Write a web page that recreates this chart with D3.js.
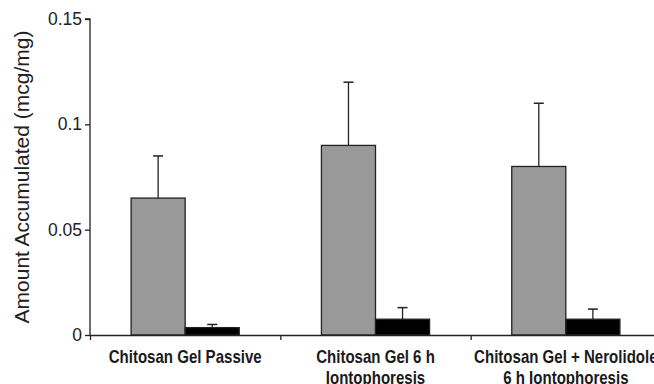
<!DOCTYPE html>
<html>
<head>
<meta charset="utf-8">
<script src="https://cdn.jsdelivr.net/npm/d3@7"></script>
<style>
  body { margin: 0; background: #fff; }
  svg { display: block; }
</style>
</head>
<body>
<svg></svg>
<script>
const width = 654
const height = 384
const marginTop = 19
const marginLeft = 90
const axisBottomY = 335
const axisRight = 661

// data
const categories = ["Chitosan Gel Passive", "Chitosan Gel 6 h|Iontophoresis", "Chitosan Gel + Nerolidole|6 h Iontophoresis"]
const series = ["grey", "black"]
const greyValues = [0.065, 0.09, 0.08]
const greyErrors = [0.020, 0.030, 0.030]
const blackValues = [0.0035, 0.0075, 0.0075]
const blackErrors = [0.0015, 0.0055, 0.0048]
const yTicks = [0, 0.05, 0.1, 0.15]
const yTickLabels = ["0", "0.05", "0.1", "0.15"]
const seriesColors = ["#999999", "#000000"]

const rows = categories.map((c, i) => ({
    category: c,
    bars: [
        { key: "grey", value: greyValues[i], err: greyErrors[i] },
        { key: "black", value: blackValues[i], err: blackErrors[i] }
    ]
}))

const svg = d3.select("svg")
    .attr("width", width)
    .attr("height", height)

const y = d3.scaleLinear()
    .domain([0, 0.15])
    .range([axisBottomY, marginTop])

const x0 = d3.scaleBand()
    .domain(categories)
    .range([marginLeft, axisRight])
    .padding(0)

const x1 = d3.scaleBand()
    .domain(series)
    .range([0, x0.bandwidth()])
    .paddingInner(0)
    .paddingOuter(0.76)

const color = d3.scaleOrdinal().domain(series).range(seriesColors)

const groups = svg.selectAll(".group")
    .data(rows)
    .enter()
    .append("g")
    .attr("class", "group")
    .attr("transform", d => `translate(${x0(d.category)},0)`)

// error bars (upper only)
groups.selectAll(".err")
    .data(d => d.bars)
    .enter()
    .append("g")
    .attr("class", "err")
    .each(function(d) {
        const g = d3.select(this)
        const cx = x1(d.key) + x1.bandwidth() / 2
        g.append("line")
            .attr("x1", cx).attr("x2", cx)
            .attr("y1", y(d.value)).attr("y2", y(d.value + d.err))
            .attr("stroke", "#222").attr("stroke-width", 1.3)
        g.append("line")
            .attr("x1", cx - 5).attr("x2", cx + 5)
            .attr("y1", y(d.value + d.err)).attr("y2", y(d.value + d.err))
            .attr("stroke", "#222").attr("stroke-width", 1.5)
    })

groups.selectAll("rect")
    .data(d => d.bars)
    .enter()
    .append("rect")
    .attr("x", d => x1(d.key))
    .attr("y", d => y(d.value))
    .attr("width", x1.bandwidth())
    .attr("height", d => axisBottomY - y(d.value))
    .style("fill", d => color(d.key))
    .style("stroke", "#222")
    .style("stroke-width", 1.3)

// y axis
const yAxis = d3.axisLeft(y)
    .tickValues(yTicks)
    .tickFormat((d, i) => yTickLabels[i])
    .tickSize(5)
    .tickPadding(3)

const yG = svg.append("g")
    .attr("transform", `translate(${marginLeft},0)`)
    .call(yAxis)
yG.select(".domain").attr("d", `M-5,${marginTop}H0V${axisBottomY}`).attr("stroke", "#222").attr("stroke-width", 1.3)
yG.selectAll(".tick line").attr("stroke", "#222").attr("stroke-width", 1.3)
yG.selectAll(".tick text")
    .style("font-family", "'Liberation Sans', Arial, sans-serif")
    .style("font-size", "17.5px")
    .attr("fill", "#222")

// x axis with ticks at category boundaries
const xb = d3.scaleLinear().domain([0, categories.length]).range([marginLeft, axisRight])
const xG = svg.append("g")
    .attr("transform", `translate(0,${axisBottomY})`)
    .call(d3.axisBottom(xb).tickValues(d3.range(categories.length + 1)).tickFormat("").tickSize(5).tickSizeOuter(0))
xG.select(".domain").attr("stroke", "#222").attr("stroke-width", 1.3)
xG.selectAll(".tick line").attr("stroke", "#222").attr("stroke-width", 1.3)

// category labels, squeezed horizontally to mimic a narrow face
const labels = svg.append("g")
    .selectAll("text")
    .data(categories)
    .enter()
    .append("text")
    .attr("transform", d => `translate(${x0(d) + x0.bandwidth() / 2},363) scale(0.86,1)`)
    .attr("text-anchor", "middle")
    .style("font-family", "'Liberation Sans', Arial, sans-serif")
    .style("font-weight", "bold")
    .style("font-size", "17.5px")
    .attr("fill", "#1a1a1a")

labels.each(function(d) {
    const t = d3.select(this)
    d.split("|").forEach((line, i) => {
        t.append("tspan")
            .attr("x", 0)
            .attr("dy", i === 0 ? 0 : 21)
            .text(line)
    })
})

// y title
svg.append("text")
    .attr("transform", `translate(29,${(marginTop + axisBottomY) / 2}) rotate(-90)`)
    .attr("text-anchor", "middle")
    .style("font-family", "'Liberation Sans', Arial, sans-serif")
    .style("font-size", "21px")
    .attr("fill", "#222")
    .text("Amount Accumulated (mcg/mg)")
</script>
</body>
</html>
